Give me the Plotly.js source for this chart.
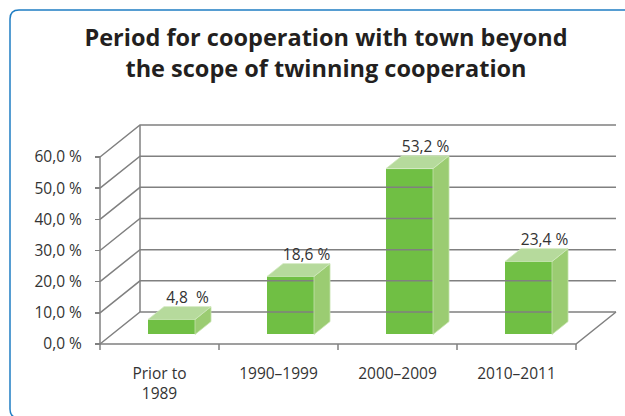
<!DOCTYPE html>
<html>
<head>
<meta charset="utf-8">
<script src="https://cdn.plot.ly/plotly-3.0.1.min.js"></script>
<style>html,body{margin:0;padding:0;background:#fff;overflow:hidden}#chart{width:625px;height:416px}</style>
</head>
<body>
<div id="chart"></div>
<script>
// ---- data ----
const categories = ['Prior to<br>1989', '1990–1999', '2000–2009', '2010–2011'];
const values = [4.8, 18.6, 53.2, 23.4];
const valueLabels = ['4,8\u00a0\u00a0%', '18,6 %', '53,2 %', '23,4 %'];
const yTicks = [0, 10, 20, 30, 40, 50, 60];
const yTickText = ['0,0 %', '10,0 %', '20,0 %', '30,0 %', '40,0 %', '50,0 %', '60,0 %'];

// ---- geometry (pixel scale of the axes) ----
const W = 625, H = 416;
const PX_X = 119;          // px per category
const PX_Y = 187 / 60;     // px per percent
const DX = 40 / PX_X;      // depth offset in x units
const DY = 32 / PX_Y;      // depth offset in y units
const F0 = 0.3, F1 = 0.7;  // bar front / back depth fraction
const BW = 47 / PX_X;      // bar width
const L = 90, R = 5, T = 118, B = 60;
const plotW = W - L - R, plotH = H - T - B;
const xMin = -0.5 - 10 / PX_X, xMax = xMin + plotW / PX_X;
const yMax = (344 - T) / PX_Y, yMin = (344 - (H - B)) / PX_Y;
const nCat = categories.length;
const xLeft = -0.5, xRight = nCat - 0.5;
const yTop = yTicks[yTicks.length - 1];

const gray = '#808080';
const txt = '#333333';
const fam = 'Open Sans, sans-serif';

// wall / floor lines
const lx = [], ly = [];
function seg(pts) { pts.forEach(p => { lx.push(p[0]); ly.push(p[1]); }); lx.push(null); ly.push(null); }
yTicks.forEach(v => seg([[xLeft, v], [xLeft + DX, v + DY], [xRight + DX, v + DY]]));
seg([[xLeft, 0], [xLeft, yTop]]);
seg([[xLeft + DX, DY], [xLeft + DX, yTop + DY]]);
seg([[xLeft, 0], [xRight, 0], [xRight + DX, DY]]);
for (let b = xLeft; b <= xRight + 1e-9; b += 1) seg([[b, 0], [b, -6 / PX_Y]]);

// bar faces
const tx = [], ty = [], sx = [], sy = [];
values.forEach((v, i) => {
  const a = i + F0 * DX, c = i + F1 * DX, y0 = F0 * DY, y1 = F1 * DY;
  [[a - BW / 2, v + y0], [a + BW / 2, v + y0], [c + BW / 2, v + y1], [c - BW / 2, v + y1], [a - BW / 2, v + y0]]
    .forEach(p => { tx.push(p[0]); ty.push(p[1]); });
  tx.push(null); ty.push(null);
  [[a + BW / 2, y0], [a + BW / 2, v + y0], [c + BW / 2, v + y1], [c + BW / 2, y1], [a + BW / 2, y0]]
    .forEach(p => { sx.push(p[0]); sy.push(p[1]); });
  sx.push(null); sy.push(null);
});

const traces = [
  { type: 'scatter', mode: 'lines', x: lx, y: ly, line: { color: gray, width: 1.5 }, hoverinfo: 'skip', showlegend: false },
  { type: 'bar', x: values.map((v, i) => i + F0 * DX), y: values, base: F0 * DY, width: BW,
    marker: { color: '#70bf44', line: { width: 0 } }, hoverinfo: 'skip', showlegend: false },
  { type: 'scatter', mode: 'lines', x: sx, y: sy, fill: 'toself', fillcolor: '#9bcc72',
    line: { color: '#c4e2ab', width: 0.8 }, hoverinfo: 'skip', showlegend: false },
  { type: 'scatter', mode: 'lines', x: tx, y: ty, fill: 'toself', fillcolor: '#b6da9c',
    line: { color: '#cfe8bd', width: 0.8 }, hoverinfo: 'skip', showlegend: false },
  { type: 'scatter', mode: 'text', x: values.map((v, i) => i + F1 * DX), y: values.map(v => v + F1 * DY),
    text: valueLabels, textposition: 'top center', cliponaxis: false,
    textfont: { family: fam, size: 15.5, color: txt }, hoverinfo: 'skip', showlegend: false }
];

// rounded border in paper coords
function px2x(p) { return (p - L) / plotW; }
function px2y(p) { return 1 - (p - T) / plotH; }
const bx0 = 10, by0 = 10, bx1 = 660, by1 = 418, r = 9;
const path = 'M ' + px2x(bx0 + r) + ',' + px2y(by0) +
  ' L ' + px2x(bx1 - r) + ',' + px2y(by0) +
  ' Q ' + px2x(bx1) + ',' + px2y(by0) + ' ' + px2x(bx1) + ',' + px2y(by0 + r) +
  ' L ' + px2x(bx1) + ',' + px2y(by1 - r) +
  ' Q ' + px2x(bx1) + ',' + px2y(by1) + ' ' + px2x(bx1 - r) + ',' + px2y(by1) +
  ' L ' + px2x(bx0 + r) + ',' + px2y(by1) +
  ' Q ' + px2x(bx0) + ',' + px2y(by1) + ' ' + px2x(bx0) + ',' + px2y(by1 - r) +
  ' L ' + px2x(bx0) + ',' + px2y(by0 + r) +
  ' Q ' + px2x(bx0) + ',' + px2y(by0) + ' ' + px2x(bx0 + r) + ',' + px2y(by0) + ' Z';

const layout = {
  width: W, height: H,
  margin: { l: L, r: R, t: T, b: B },
  paper_bgcolor: '#ffffff', plot_bgcolor: 'rgba(0,0,0,0)',
  font: { family: fam, color: txt },
  title: {
    text: '<b>Period for cooperation with town beyond<br>the scope of twinning cooperation</b>',
    x: 326 / W, xanchor: 'center', y: 1 - 46 / H, yanchor: 'top',
    font: { family: fam, size: 23.5, color: '#231f20' }
  },
  xaxis: {
    range: [xMin, xMax], showgrid: false, zeroline: false, showline: false,
    tickvals: categories.map((c, i) => i), ticktext: categories, ticks: '',
    ticklabelstandoff: 6,
    tickfont: { family: fam, size: 15.5, color: txt },
    fixedrange: true
  },
  yaxis: {
    range: [yMin, yMax], showgrid: false, zeroline: false, showline: false,
    anchor: 'free', position: 10 / plotW,
    tickvals: yTicks, ticktext: yTickText,
    ticks: 'outside', ticklen: 5, tickwidth: 1.5, tickcolor: gray,
    ticklabelstandoff: 10,
    tickfont: { family: fam, size: 15.5, color: txt },
    fixedrange: true
  },
  shapes: [{ type: 'path', xref: 'paper', yref: 'paper', path: path,
    line: { color: '#1f7dc3', width: 1.5 }, fillcolor: 'rgba(0,0,0,0)', layer: 'below' }],
  bargap: 0
};

Plotly.newPlot('chart', traces, layout, { displayModeBar: false, staticPlot: true });
</script>
</body>
</html>
